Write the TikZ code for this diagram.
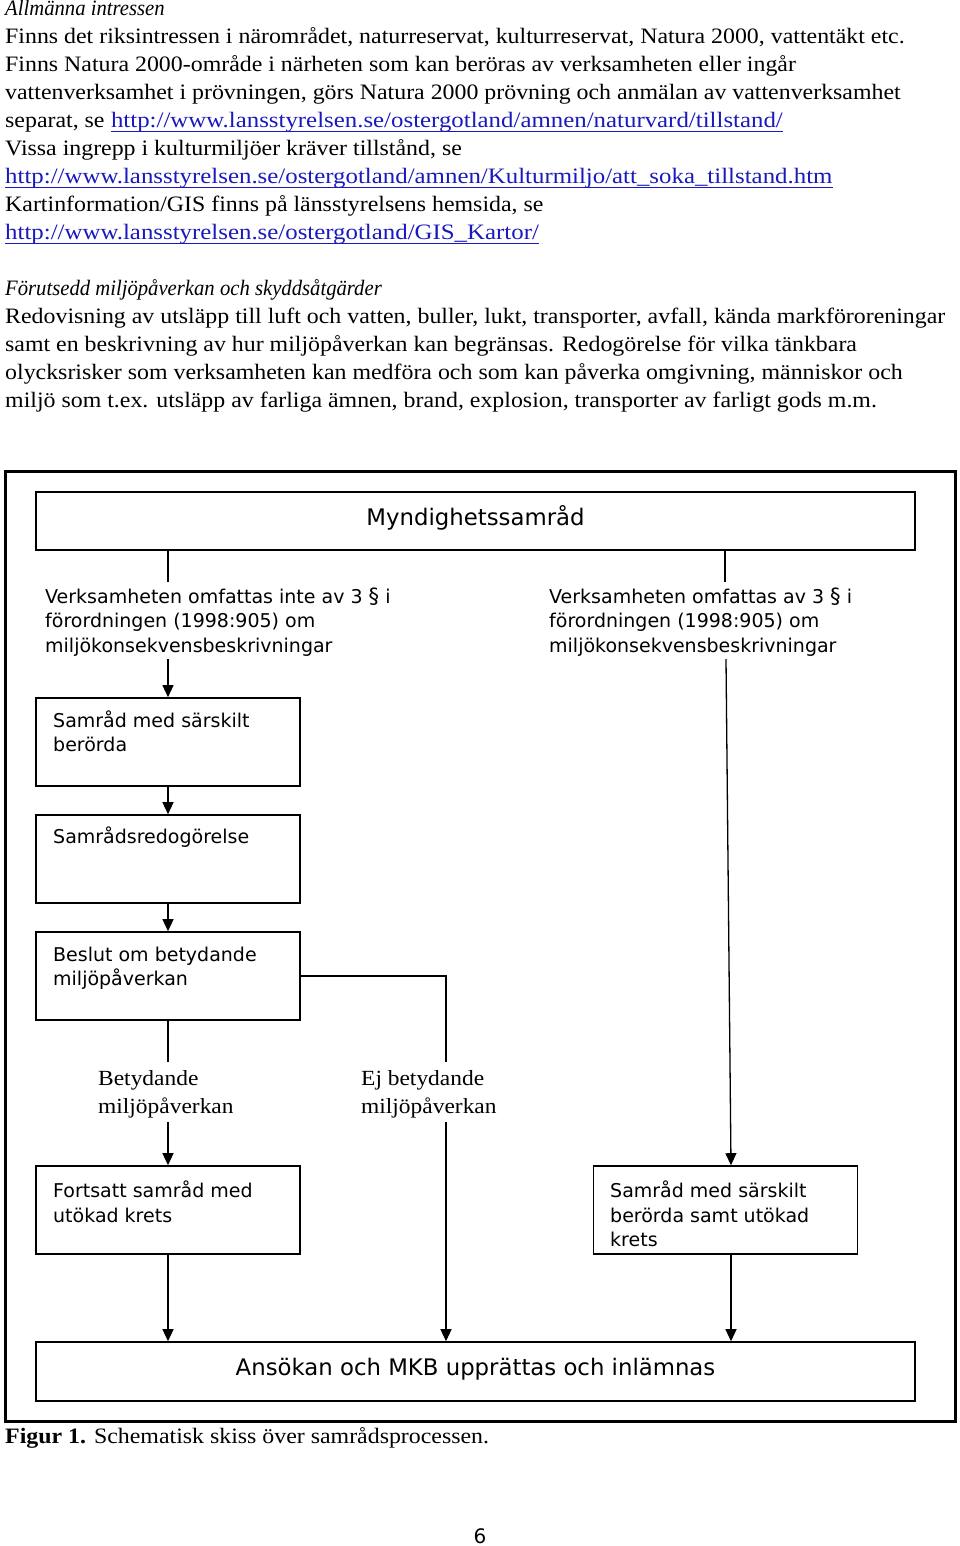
\documentclass[tikz,border=0pt]{standalone}
\usepackage{fontspec}
\setmainfont{Liberation Serif}[FakeStretch=1.085]
\newfontfamily\linkfont{Liberation Serif}[FakeStretch=1.13]
\newfontfamily\itfont{Liberation Serif}[FakeStretch=0.94]
\newfontfamily\dv{DejaVu Sans}
\usetikzlibrary{arrows.meta}
\definecolor{linkblue}{RGB}{25,25,190}
\newcommand\mystrut{\rule{0pt}{16pt}}
\newcommand\serstrut{\rule{0pt}{18pt}}
\begin{document}
\begin{tikzpicture}[x=1pt,y=-1pt,
  body/.style={anchor=base west,inner sep=0,font=\fontsize{22}{28}\selectfont},
  head/.style={body,font=\itfont\itshape\fontsize{22}{28}\selectfont},
  link/.style={body,text=linkblue,font=\linkfont\fontsize{22}{28}\selectfont},
  uline/.style={draw=linkblue,line width=1.3},
  box/.style={draw,line width=1.6,inner sep=0,minimum width=264,minimum height=88},
  wide/.style={box,minimum width=879},
  btxt/.style={anchor=north west,inner sep=0,align=left,font=\dv\fontsize{19}{24.5}\selectfont},
  title/.style={anchor=base,inner sep=0,font=\dv\fontsize{22.8}{28}\selectfont},
  lbl/.style={anchor=north west,inner sep=0,align=left,font=\fontsize{21.6}{28}\selectfont},
  conn/.style={line width=1.3},
  arr/.style={conn,-{Triangle[length=12pt,width=11pt]}}
]
\useasboundingbox (0,0) rectangle (960,1546);

% ---- top text ----
\node[head] (t0) at (5,15.5) {Allmänna intressen};
\node[body] (t1) at (5,43.5) {Finns det riksintressen i närområdet, naturreservat, kulturreservat, Natura 2000, vattentäkt etc.};
\node[body] (t2) at (5,71.5) {Finns Natura 2000-område i närheten som kan beröras av verksamheten eller ingår};
\node[body] (t3) at (5,99.5) {vattenverksamhet i prövningen, görs Natura 2000 prövning och anmälan av vattenverksamhet};
\node[body] (t4) at (5,127.5) {separat, se};
\node[link] (l1) at ([xshift=6pt]t4.base east) {http://www.lansstyrelsen.se/ostergotland/amnen/naturvard/tillstand/};
\draw[uline] ([yshift=-4pt]l1.base west) -- ([yshift=-4pt]l1.base east);
\node[body] (t5) at (5,155.5) {Vissa ingrepp i kulturmiljöer kräver tillstånd, se};
\node[link] (l2) at (5,183.5) {http://www.lansstyrelsen.se/ostergotland/amnen/Kulturmiljo/att\_soka\_tillstand.htm};
\draw[uline] ([yshift=-4pt]l2.base west) -- ([yshift=-4pt]l2.base east);
\node[body] (t7) at (5,211.5) {Kartinformation/GIS finns på länsstyrelsens hemsida, se};
\node[link] (l3) at (5,239.5) {http://www.lansstyrelsen.se/ostergotland/GIS\_Kartor/};
\draw[uline] ([yshift=-4pt]l3.base west) -- ([yshift=-4pt]l3.base east);

\node[head] (t10) at (5,295.5) {Förutsedd miljöpåverkan och skyddsåtgärder};
\node[body] (t11) at (5,323.5) {Redovisning av utsläpp till luft och vatten, buller, lukt, transporter, avfall, kända markföroreningar};
\node[body] (t12) at (5,351.5) {samt en beskrivning av hur miljöpåverkan kan begränsas. Redogörelse för vilka tänkbara};
\node[body] (t13) at (5,379.5) {olycksrisker som verksamheten kan medföra och som kan påverka omgivning, människor och};
\node[body] (t14) at (5,407.5) {miljö som t.ex. utsläpp av farliga ämnen, brand, explosion, transporter av farligt gods m.m.};

% ---- frame ----
\draw[line width=3] (5,471) rectangle (955,1421);

% ---- boxes ----
\node[wide,minimum height=58] (my) at (475.5,521) {};
\node[title] (myt) at (475.5,525) {Myndighetssamråd};

\node[btxt] (lt) at (45,587) {\mystrut Verksamheten omfattas inte av 3 {\fontsize{21}{24}\selectfont §} i\\förordningen (1998:905) om\\miljökonsekvensbeskrivningar};
\node[btxt] (rt) at (549,587) {\mystrut Verksamheten omfattas av 3 {\fontsize{21}{24}\selectfont §} i\\förordningen (1998:905) om\\miljökonsekvensbeskrivningar};

\node[box] (s1) at (168,742) {};
\node[btxt] (s1t) at (53,710.5) {\mystrut Samråd med särskilt\\berörda};
\node[box] (s2) at (168,859) {};
\node[btxt] (s2t) at (53,827) {\mystrut Samrådsredogörelse};
\node[box] (s3) at (168,976) {};
\node[btxt] (s3t) at (53,945) {\mystrut Beslut om betydande\\miljöpåverkan};

\node[lbl] (bl) at (98,1067) {\serstrut Betydande\\miljöpåverkan};
\node[lbl] (el) at (361,1067) {\serstrut Ej betydande\\miljöpåverkan};

\node[box] (fo) at (168,1210) {};
\node[btxt] (fot) at (53,1181) {\mystrut Fortsatt samråd med\\utökad krets};
\node[box] (rb) at (725.5,1210) {};
\node[btxt] (rbt) at (610,1181) {\mystrut Samråd med särskilt\\berörda samt utökad\\krets};

\node[wide,minimum height=59] (an) at (475.5,1371.5) {};
\node[title] (ant) at (475.5,1375) {Ansökan och MKB upprättas och inlämnas};

% ---- connectors ----
\coordinate (a1) at (168,582);
\coordinate (a2) at (725,582);
\coordinate (a3) at (168,659);
\coordinate (a4) at (168,1062);
\coordinate (a5) at (168,1122);
\coordinate (m1) at (446,1062);
\coordinate (m2) at (446,1122);
\coordinate (r1) at (726,659);
\coordinate (rx) at (731,0);

\draw[conn] (my.south -| a1) -- (a1);
\draw[conn] (my.south -| a2) -- (a2);
\draw[arr] (a3) -- (s1.north);
\draw[arr] (s1) -- (s2);
\draw[arr] (s2) -- (s3);
\draw[conn] (s3) -- (a4);
\draw[arr] (a5) -- (fo);
\draw[conn] (s3.east) -| (m1);
\draw[arr] (m2) -- (an.north -| m2);
\draw[arr] (r1) -- (rb.north -| rx);
\draw[arr] (fo) -- (an.north -| fo);
\draw[arr] (rb.south -| rx) -- (an.north -| rx);

% ---- caption ----
\node[body] (cap) at (5,1443) {\textbf{Figur 1.} Schematisk skiss över samrådsprocessen.};
\node[anchor=base,inner sep=0,font=\dv\fontsize{20}{24}\selectfont] (pg) at (480,1543) {6};
\end{tikzpicture}
\end{document}
